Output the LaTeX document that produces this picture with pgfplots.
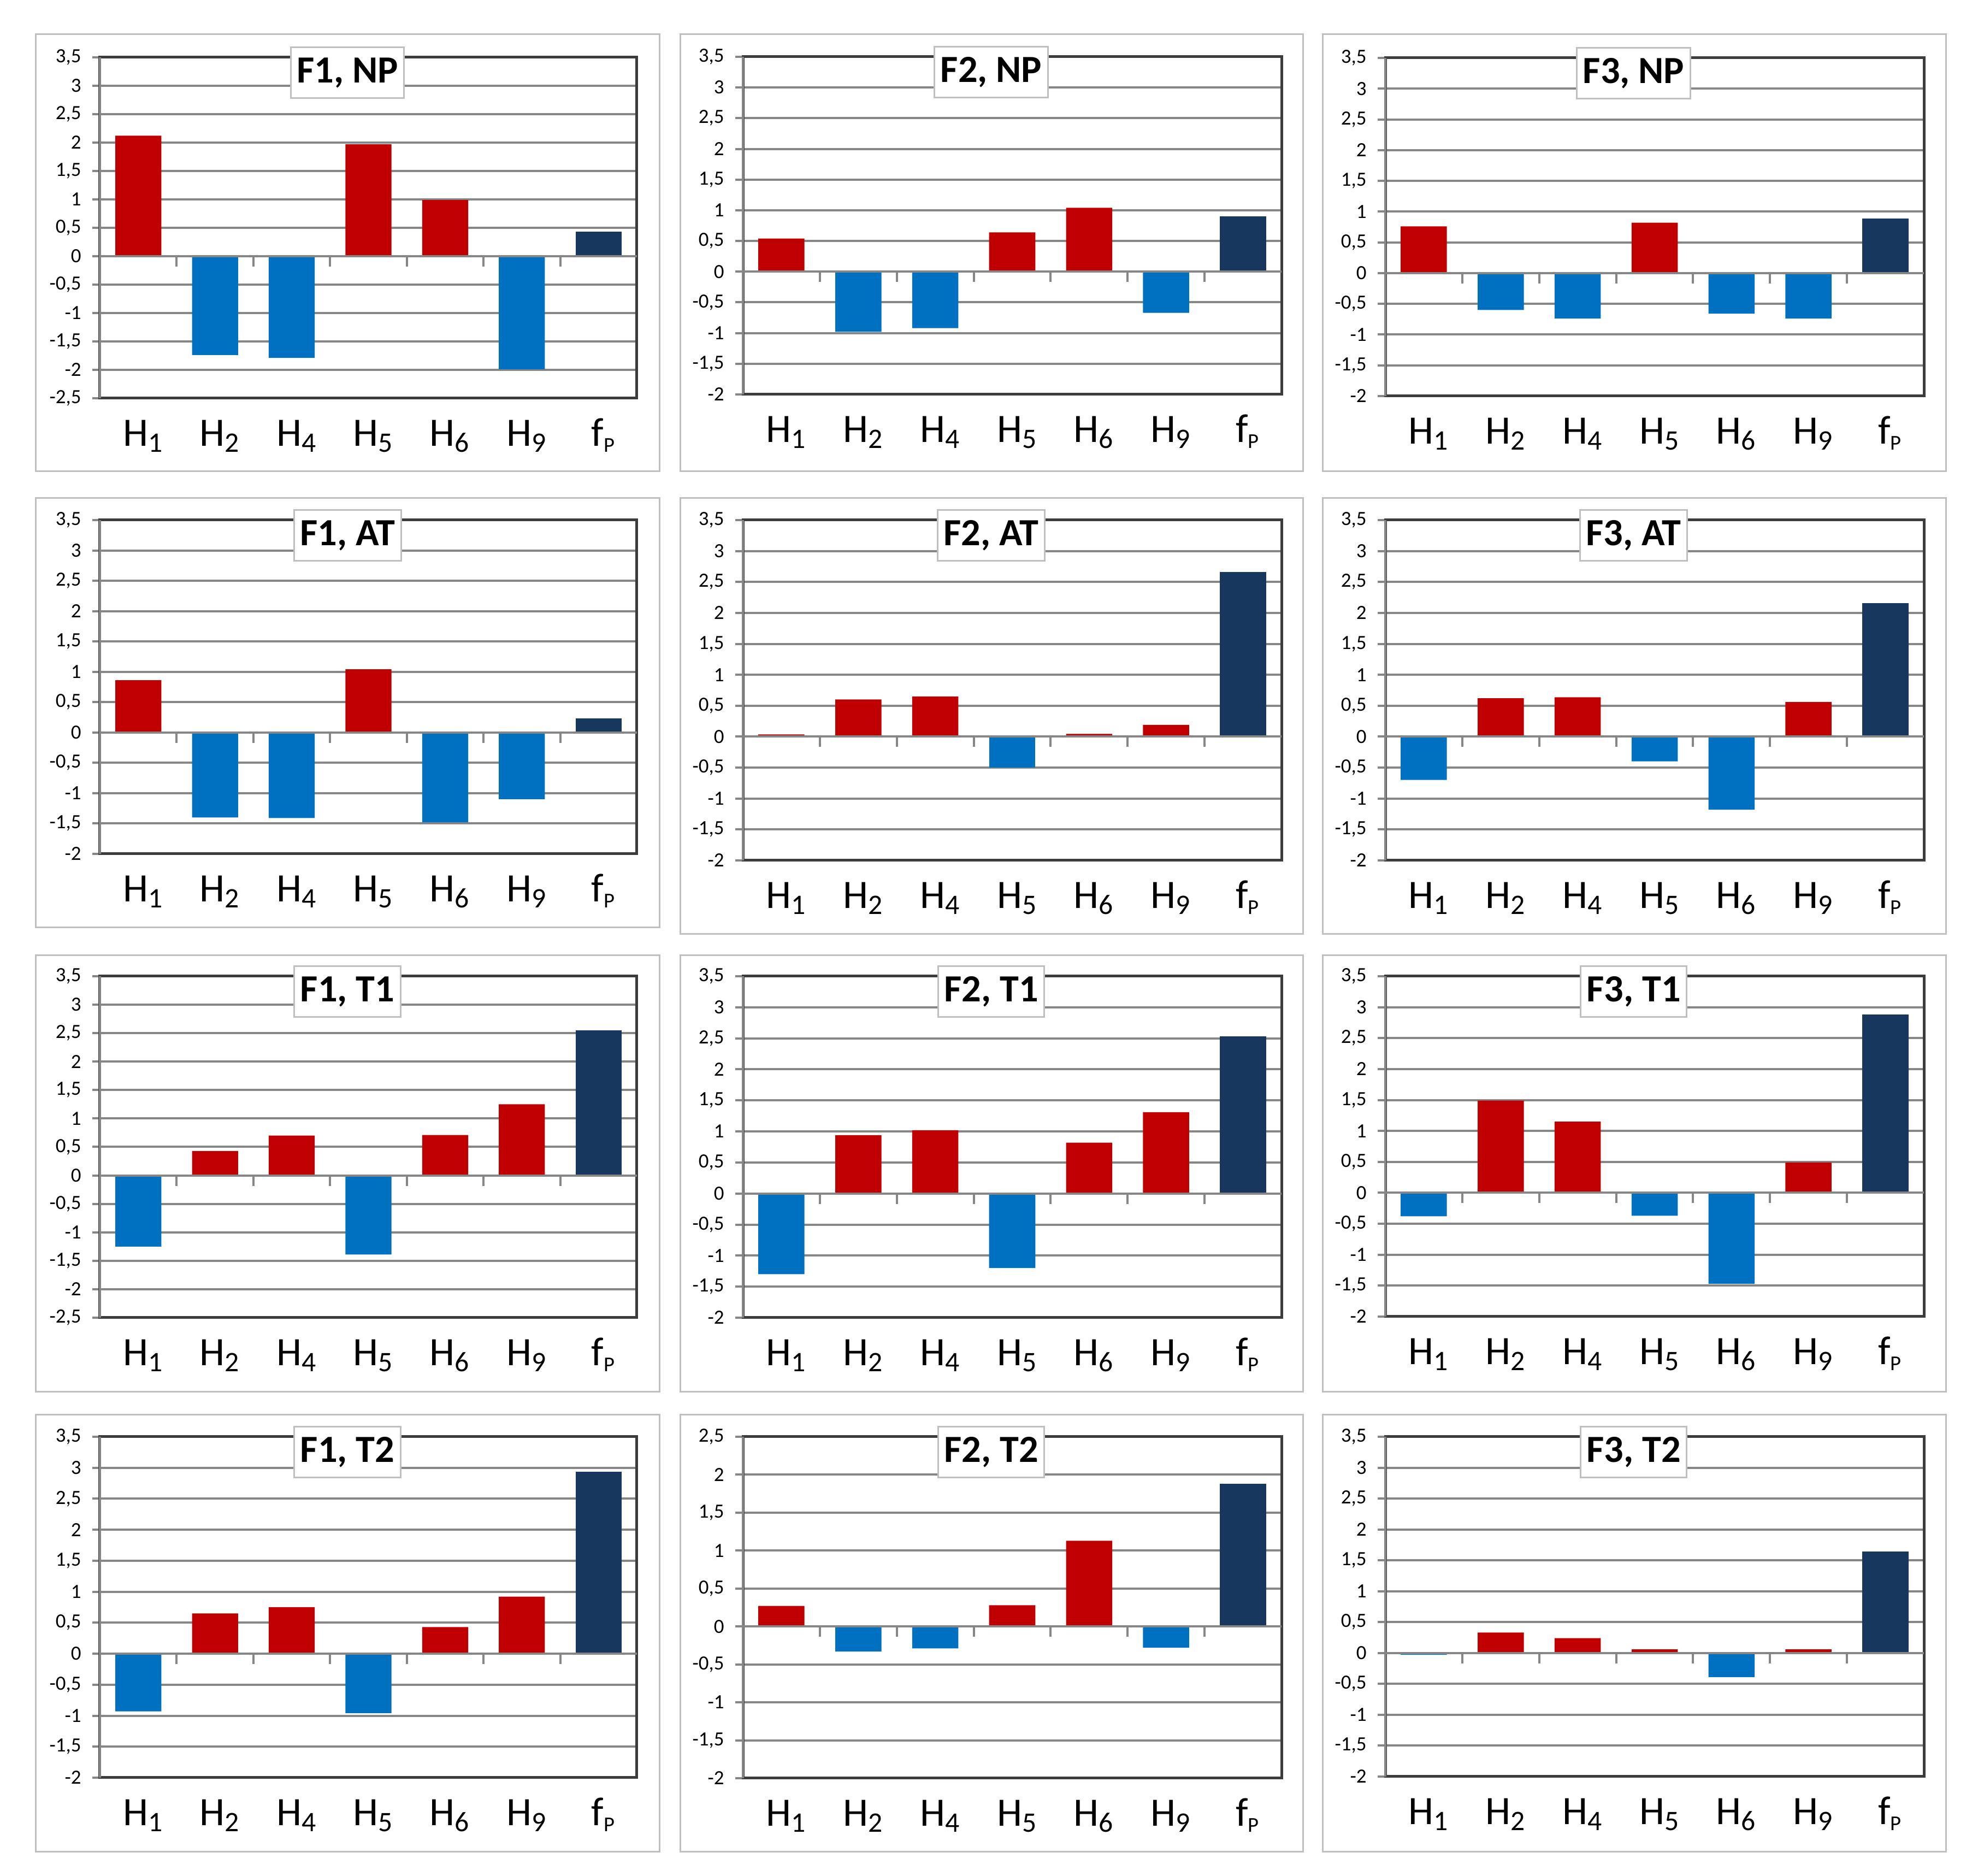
\documentclass[border=0pt]{standalone}
\usepackage{fontspec}
\setmainfont{Carlito}
\usepackage{pgfplots}
\pgfplotsset{compat=1.18}

\definecolor{cRed}{HTML}{C00000}
\definecolor{cBlue}{HTML}{0070C0}
\definecolor{cNavy}{HTML}{17375E}
\definecolor{cGrid}{HTML}{868686}
\definecolor{cFrame}{HTML}{3C3C3C}
\definecolor{cBox}{HTML}{BFBFBF}

\pgfplotsset{
  panel/.style={
    scale only axis, anchor=north west, clip=false,
    xmin=-0.5, xmax=6.5, ymax=3.5,
    xtick={0,...,6},
    xticklabels={H\textsubscript{1},H\textsubscript{2},H\textsubscript{4},H\textsubscript{5},H\textsubscript{6},H\textsubscript{9},f\textsubscript{\fontsize{11}{11}\selectfont P}},
    xtick pos=bottom,
    x tick style={draw=none},
    xticklabel style={anchor=base, yshift=-7.4mm, xshift=0.9mm, font=\fontsize{21}{21}\selectfont},
    ytick distance=0.5,
    ytick pos=left, tick align=outside, major tick length=1.4mm,
    y tick style={draw=cGrid, line width=0.4mm},
    yticklabel style={font=\fontsize{10.5}{10.5}\selectfont, xshift=-0.8mm},
    /pgf/number format/assume math mode=true,
    /pgf/number format/use comma,
    /pgf/number format/1000 sep={},
    ymajorgrids, major grid style={draw=cGrid, line width=0.4mm},
    axis line style={draw=cFrame, line width=0.5mm},
  },
  hbar/.style={ybar, bar width=0.6, bar shift=0pt, draw=none, fill=#1},
}
\tikzset{
  titlebox/.style={draw=cBox, line width=0.3mm, fill=white, inner xsep=1.1mm,
      minimum height=9.3mm, anchor=center, yshift=-2.8mm,
      font=\fontsize{20}{20}\selectfont\bfseries},
}

% zero line, category ticks, grey left axis line and title box
\newcommand{\deco}[1]{%
  \draw[cGrid, line width=0.4mm] (axis cs:-0.5,0) -- (axis cs:6.5,0);
  \draw[cGrid, line width=0.4mm] (axis cs:0.5,0) -- ([yshift=-1.9mm]axis cs:0.5,0);
  \draw[cGrid, line width=0.4mm] (axis cs:1.5,0) -- ([yshift=-1.9mm]axis cs:1.5,0);
  \draw[cGrid, line width=0.4mm] (axis cs:2.5,0) -- ([yshift=-1.9mm]axis cs:2.5,0);
  \draw[cGrid, line width=0.4mm] (axis cs:3.5,0) -- ([yshift=-1.9mm]axis cs:3.5,0);
  \draw[cGrid, line width=0.4mm] (axis cs:4.5,0) -- ([yshift=-1.9mm]axis cs:4.5,0);
  \draw[cGrid, line width=0.4mm] (axis cs:5.5,0) -- ([yshift=-1.9mm]axis cs:5.5,0);
  \draw[cGrid, line width=0.4mm] (rel axis cs:0,0) -- (rel axis cs:0,1);
  \node[titlebox] at (rel axis cs:0.461,1) {#1};
}

\begin{document}
\begin{tikzpicture}
\fill[white] (0,0) rectangle (362.1mm,343.4mm);

% panel frames
\begin{scope}[cBox, line width=0.3mm]
\draw (6.5mm,337.1mm) rectangle (120.7mm,257.1mm);
\draw (124.5mm,337.1mm) rectangle (238.5mm,257.1mm);
\draw (242.1mm,337.1mm) rectangle (356.2mm,257.1mm);
\draw (6.5mm,252.2mm) rectangle (120.7mm,173.6mm);
\draw (124.5mm,252.2mm) rectangle (238.5mm,172.4mm);
\draw (242.1mm,252.2mm) rectangle (356.2mm,172.4mm);
\draw (6.5mm,168.5mm) rectangle (120.7mm,88.6mm);
\draw (124.5mm,168.5mm) rectangle (238.5mm,88.6mm);
\draw (242.1mm,168.5mm) rectangle (356.2mm,88.6mm);
\draw (6.5mm,84.4mm) rectangle (120.7mm,4.4mm);
\draw (124.5mm,84.4mm) rectangle (238.5mm,4.4mm);
\draw (242.1mm,84.4mm) rectangle (356.2mm,4.4mm);
\end{scope}

% ---------- row 1: NP ----------
\begin{axis}[panel, at={(18.3mm,332.9mm)}, width=98.3mm, height=62.4mm, ymin=-2.5]
\addplot[hbar=cRed] coordinates {(0,2.12) (3,1.97) (4,0.99)};
\addplot[hbar=cBlue] coordinates {(1,-1.74) (2,-1.79) (5,-1.99)};
\addplot[hbar=cNavy] coordinates {(6,0.43)};
\deco{F1, NP}
\end{axis}

\begin{axis}[panel, at={(136.0mm,333.0mm)}, width=98.6mm, height=61.8mm, ymin=-2]
\addplot[hbar=cRed] coordinates {(0,0.54) (3,0.64) (4,1.04)};
\addplot[hbar=cBlue] coordinates {(1,-0.98) (2,-0.92) (5,-0.67)};
\addplot[hbar=cNavy] coordinates {(6,0.90)};
\deco{F2, NP}
\end{axis}

\begin{axis}[panel, at={(253.6mm,332.8mm)}, width=98.6mm, height=61.9mm, ymin=-2]
\addplot[hbar=cRed] coordinates {(0,0.76) (3,0.82)};
\addplot[hbar=cBlue] coordinates {(1,-0.60) (2,-0.74) (4,-0.66) (5,-0.74)};
\addplot[hbar=cNavy] coordinates {(6,0.89)};
\deco{F3, NP}
\end{axis}

% ---------- row 2: AT ----------
\begin{axis}[panel, at={(18.3mm,248.2mm)}, width=98.3mm, height=61.1mm, ymin=-2]
\addplot[hbar=cRed] coordinates {(0,0.86) (3,1.04)};
\addplot[hbar=cBlue] coordinates {(1,-1.40) (2,-1.41) (4,-1.48) (5,-1.10)};
\addplot[hbar=cNavy] coordinates {(6,0.23)};
\deco{F1, AT}
\end{axis}

\begin{axis}[panel, at={(136.0mm,248.2mm)}, width=98.6mm, height=62.3mm, ymin=-2]
\addplot[hbar=cRed] coordinates {(0,0.035) (1,0.60) (2,0.65) (4,0.045) (5,0.19)};
\addplot[hbar=cBlue] coordinates {(3,-0.50)};
\addplot[hbar=cNavy] coordinates {(6,2.66)};
\deco{F2, AT}
\end{axis}

\begin{axis}[panel, at={(253.6mm,248.2mm)}, width=98.6mm, height=62.3mm, ymin=-2]
\addplot[hbar=cRed] coordinates {(1,0.62) (2,0.635) (5,0.56)};
\addplot[hbar=cBlue] coordinates {(0,-0.70) (3,-0.40) (4,-1.18)};
\addplot[hbar=cNavy] coordinates {(6,2.16)};
\deco{F3, AT}
\end{axis}

% ---------- row 3: T1 ----------
\begin{axis}[panel, at={(18.3mm,164.7mm)}, width=98.3mm, height=62.5mm, ymin=-2.5]
\addplot[hbar=cRed] coordinates {(1,0.43) (2,0.70) (4,0.71) (5,1.25)};
\addplot[hbar=cBlue] coordinates {(0,-1.25) (3,-1.39)};
\addplot[hbar=cNavy] coordinates {(6,2.55)};
\deco{F1, T1}
\end{axis}

\begin{axis}[panel, at={(136.0mm,164.7mm)}, width=98.6mm, height=62.5mm, ymin=-2]
\addplot[hbar=cRed] coordinates {(1,0.94) (2,1.02) (4,0.82) (5,1.31)};
\addplot[hbar=cBlue] coordinates {(0,-1.30) (3,-1.20)};
\addplot[hbar=cNavy] coordinates {(6,2.53)};
\deco{F2, T1}
\end{axis}

\begin{axis}[panel, at={(253.6mm,164.7mm)}, width=98.6mm, height=62.3mm, ymin=-2]
\addplot[hbar=cRed] coordinates {(1,1.49) (2,1.15) (5,0.49)};
\addplot[hbar=cBlue] coordinates {(0,-0.38) (3,-0.37) (4,-1.47)};
\addplot[hbar=cNavy] coordinates {(6,2.88)};
\deco{F3, T1}
\end{axis}

% ---------- row 4: T2 ----------
\begin{axis}[panel, at={(18.3mm,80.4mm)}, width=98.3mm, height=62.4mm, ymin=-2]
\addplot[hbar=cRed] coordinates {(1,0.65) (2,0.75) (4,0.43) (5,0.92)};
\addplot[hbar=cBlue] coordinates {(0,-0.93) (3,-0.96)};
\addplot[hbar=cNavy] coordinates {(6,2.94)};
\deco{F1, T2}
\end{axis}

\begin{axis}[panel, at={(136.0mm,80.4mm)}, width=98.6mm, height=62.5mm, ymin=-2, ymax=2.5]
\addplot[hbar=cRed] coordinates {(0,0.27) (3,0.28) (4,1.13)};
\addplot[hbar=cBlue] coordinates {(1,-0.33) (2,-0.29) (5,-0.28)};
\addplot[hbar=cNavy] coordinates {(6,1.88)};
\deco{F2, T2}
\end{axis}

\begin{axis}[panel, at={(253.6mm,80.4mm)}, width=98.6mm, height=62.2mm, ymin=-2]
\addplot[hbar=cRed] coordinates {(1,0.33) (2,0.24) (3,0.06) (5,0.06)};
\addplot[hbar=cBlue] coordinates {(0,-0.03) (4,-0.39)};
\addplot[hbar=cNavy] coordinates {(6,1.64)};
\deco{F3, T2}
\end{axis}
\end{tikzpicture}
\end{document}
